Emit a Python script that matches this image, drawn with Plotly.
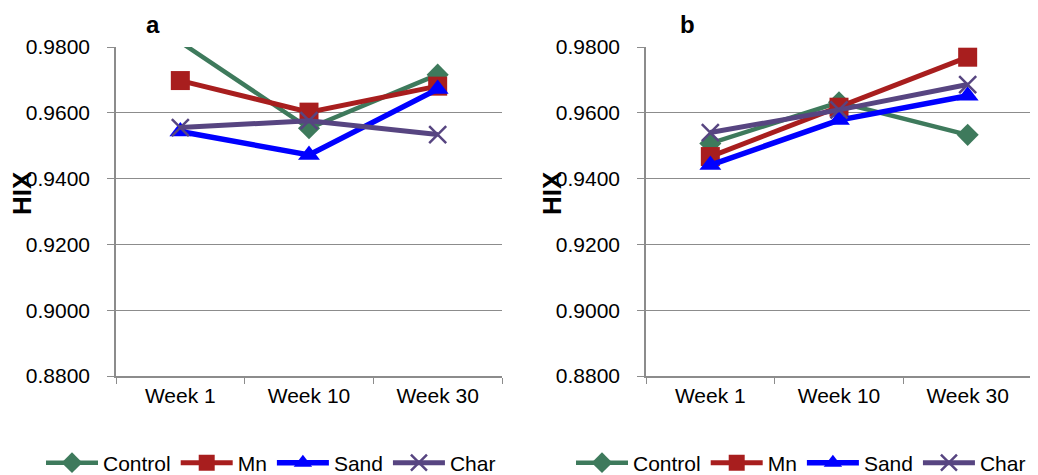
import plotly.graph_objects as go

weeks = ["Week 1", "Week 10", "Week 30"]
series_names = ["Control", "Mn", "Sand", "Char"]

# Panel a
a_control = [0.9815, 0.9553, 0.9716]
a_mn = [0.9698, 0.9602, 0.9681]
a_sand = [0.9543, 0.9472, 0.9672]
a_char = [0.9555, 0.9576, 0.9534]

# Panel b
b_control = [0.9507, 0.9632, 0.9533]
b_mn = [0.9467, 0.9617, 0.9769]
b_sand = [0.9441, 0.9578, 0.9652]
b_char = [0.9540, 0.9609, 0.9686]

y_ticks = [0.88, 0.90, 0.92, 0.94, 0.96, 0.98]
y_min, y_max = 0.88, 0.98

colors = {"Control": "#3E7A5C", "Mn": "#A81E1E", "Sand": "#0000FF", "Char": "#574581"}
symbols = {"Control": "diamond", "Mn": "square", "Sand": "triangle-up", "Char": "x-thin"}
msize = {"Control": 17, "Mn": 19, "Sand": 19, "Char": 17}
lwidth = {"Control": 4.5, "Mn": 5, "Sand": 5.5, "Char": 5}

FONT = "Liberation Sans, Arial, sans-serif"

# page body has a default 8px margin; work in screen pixels and convert
OFF = 8
W, H = 1038 - OFF, 475 - OFF


def px(x):
    return (x - OFF) / W


def py(y):
    return 1 - (y - OFF) / H


fig = go.Figure()

panels = [
    ("x", "y", "legend", [a_control, a_mn, a_sand, a_char]),
    ("x2", "y2", "legend2", [b_control, b_mn, b_sand, b_char]),
]

for xa, ya, leg, data in panels:
    for name, vals in zip(series_names, data):
        # points beyond the axis range get no marker (like the source chart)
        in_range = [i for i, v in enumerate(vals) if y_min <= v <= y_max]
        sym = symbols[name]
        marker = dict(symbol=sym, size=msize[name], color=colors[name], opacity=1)
        if sym == "x-thin":
            marker["line"] = dict(color=colors[name], width=2.5)
        fig.add_trace(go.Scatter(
            x=weeks, y=vals, name=name, mode="lines+markers",
            line=dict(color=colors[name], width=lwidth[name]),
            marker=marker, xaxis=xa, yaxis=ya, legend=leg,
            cliponaxis=True,
            selectedpoints=in_range,
            selected=dict(marker=dict(opacity=1)),
            unselected=dict(marker=dict(opacity=0)),
        ))

ydom = [py(376), py(47)]
grid_col = "#8C8C8C"

common_x = dict(
    type="category", range=[-0.5, 2.5], showgrid=False, showline=True,
    linecolor=grid_col, linewidth=1.5, ticks="outside", tickson="boundaries",
    ticklen=6, tickcolor=grid_col, tickwidth=1.3,
    tickfont=dict(family=FONT, size=21, color="#000"), fixedrange=True,
)
common_y = dict(
    range=[y_min, y_max], tickvals=y_ticks, tickformat=".4f",
    showgrid=True, gridcolor=grid_col, gridwidth=1.3,
    showline=True, linecolor=grid_col, linewidth=1.5,
    ticks="outside", ticklen=7, tickcolor=grid_col, tickwidth=1.3,
    tickfont=dict(family=FONT, size=21, color="#000"),
    ticklabelstandoff=13, zeroline=False, fixedrange=True,
)

legend_common = dict(
    orientation="h", yanchor="middle", xanchor="left",
    font=dict(family=FONT, size=21, color="#000"),
    bgcolor="rgba(0,0,0,0)", itemclick=False, itemdoubleclick=False,
    tracegroupgap=0, itemwidth=52,
)


def label(text, x, y, size, angle=0):
    return dict(text=text, x=px(x), y=py(y), xref="paper", yref="paper",
                xanchor="center", yanchor="middle", showarrow=False,
                textangle=angle, font=dict(family=FONT, size=size, color="#000"))


fig.update_layout(
    width=W, height=H,
    margin=dict(l=0, r=0, t=0, b=0, autoexpand=False),
    paper_bgcolor="white", plot_bgcolor="white",
    showlegend=True,
    xaxis=dict(domain=[px(116), px(502)], anchor="y", **common_x),
    yaxis=dict(domain=ydom, anchor="x", **common_y),
    xaxis2=dict(domain=[px(646), px(1032)], anchor="y2", **common_x),
    yaxis2=dict(domain=ydom, anchor="x2", **common_y),
    legend=dict(x=px(41), y=py(463), **legend_common),
    legend2=dict(x=px(571), y=py(463), **legend_common),
    annotations=[
        label("<b>a</b>", 153, 24, 24),
        label("<b>b</b>", 687, 24, 24),
        label("<b>HIX</b>", 22, 193, 26, -90),
        label("<b>HIX</b>", 552, 193, 26, -90),
    ],
)

fig.write_html("out.html")
